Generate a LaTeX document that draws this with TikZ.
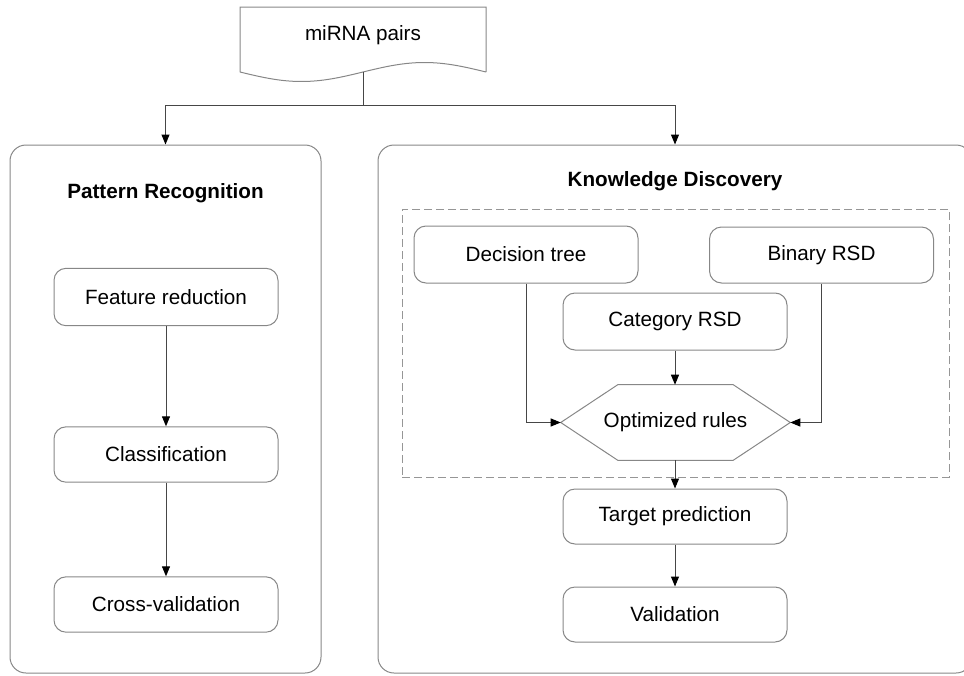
\documentclass[tikz,border=0pt]{standalone}
\usepackage{fontspec}
\setmainfont{Liberation Sans}
\usetikzlibrary{arrows.meta}
\definecolor{boxline}{RGB}{135,135,135}
\definecolor{connline}{RGB}{70,70,70}
\definecolor{dashline}{RGB}{150,150,150}
\begin{document}
\begin{tikzpicture}[x=0.75pt,y=-0.75pt,
  every node/.style={font=\fontsize{15.5}{18}\selectfont, inner sep=0pt},
  stepbox/.style={draw=boxline, line width=0.75pt, rounded corners=9pt,
    minimum width=168pt, minimum height=42pt, align=center},
  panel/.style={draw=boxline, line width=0.75pt, rounded corners=12pt,
    minimum height=396pt},
  title/.style={font=\fontsize{15.5}{18}\selectfont\bfseries},
  conn/.style={draw=connline, line width=0.75pt},
  arr/.style={conn, -{Triangle[length=7.5pt,width=6pt,color=black]}}
]
\useasboundingbox (0,0) rectangle (964,675);

% input document shape with a wavy lower edge
\draw[boxline, line width=0.75pt]
  (240,72) -- (240,7) -- (486,7) -- (486,72)
  -- plot[domain=486:240, samples=60, smooth] (\x, {72+9.5*sin(1.4634*(\x-240))});
\node (doc) at (363,35) {miRNA pairs};
\coordinate (docb) at (363,72);
\coordinate (split) at (363,105);

% the two panels
\node[panel, minimum width=233.25pt] (prbox) at (165.5,409) {};
\node[panel, minimum width=445.5pt] (kdbox) at (675,409) {};
\node[title] (prtitle) at (165.5,193) {Pattern Recognition};
\node[title] (kdtitle) at (675,181) {Knowledge Discovery};

% dashed group around the rule learners
\node[draw=dashline, line width=0.75pt, dash pattern=on 6pt off 3pt,
  minimum width=410.25pt, minimum height=201pt] (grp) at (675.5,343) {};

% pattern recognition steps
\node[stepbox, minimum height=43pt] (fr) at (166,297) {Feature reduction};
\node[stepbox, minimum height=41.5pt] (cl) at (166,454.5) {Classification};
\node[stepbox, minimum height=41.5pt] (cv) at (166,604.5) {Cross-validation};

% knowledge discovery steps
\node[stepbox, minimum height=42.75pt] (dt) at (526,254.5) {Decision tree};
\node[stepbox] (br) at (821.5,255) {Binary RSD};
\node[stepbox, minimum height=42.75pt] (cat) at (675,321.5) {Category RSD};
\node[minimum width=171.75pt, minimum height=56.25pt] (hex) at (675.5,422.5) {Optimized rules};
\draw[boxline, line width=0.75pt]
  (hex.west) -- ([xshift=42.75pt]hex.north west) -- ([xshift=-42.75pt]hex.north east)
  -- (hex.east) -- ([xshift=-42.75pt]hex.south east) -- ([xshift=42.75pt]hex.south west) -- cycle;
\node[stepbox, minimum height=41.25pt] (tp) at (675,516.5) {Target prediction};
\node[stepbox, minimum height=41.25pt] (val) at (675,614.5) {Validation};

% connectors
\draw[conn] (docb) -- (split);
\draw[arr] (split) -| (prbox.north);
\draw[arr] (split) -| (kdbox.north);
\draw[arr] (fr.south) -- (cl.north);
\draw[arr] (cl.south) -- (cv.north);
\draw[arr] (dt.south) |- (hex.west);
\draw[arr] (br.south) |- (hex.east);
\draw[arr] (cat.south) -- (cat.south |- hex.north);
\draw[arr] (hex.south -| tp.north) -- (tp.north);
\draw[arr] (tp.south) -- (val.north);
\end{tikzpicture}
\end{document}
